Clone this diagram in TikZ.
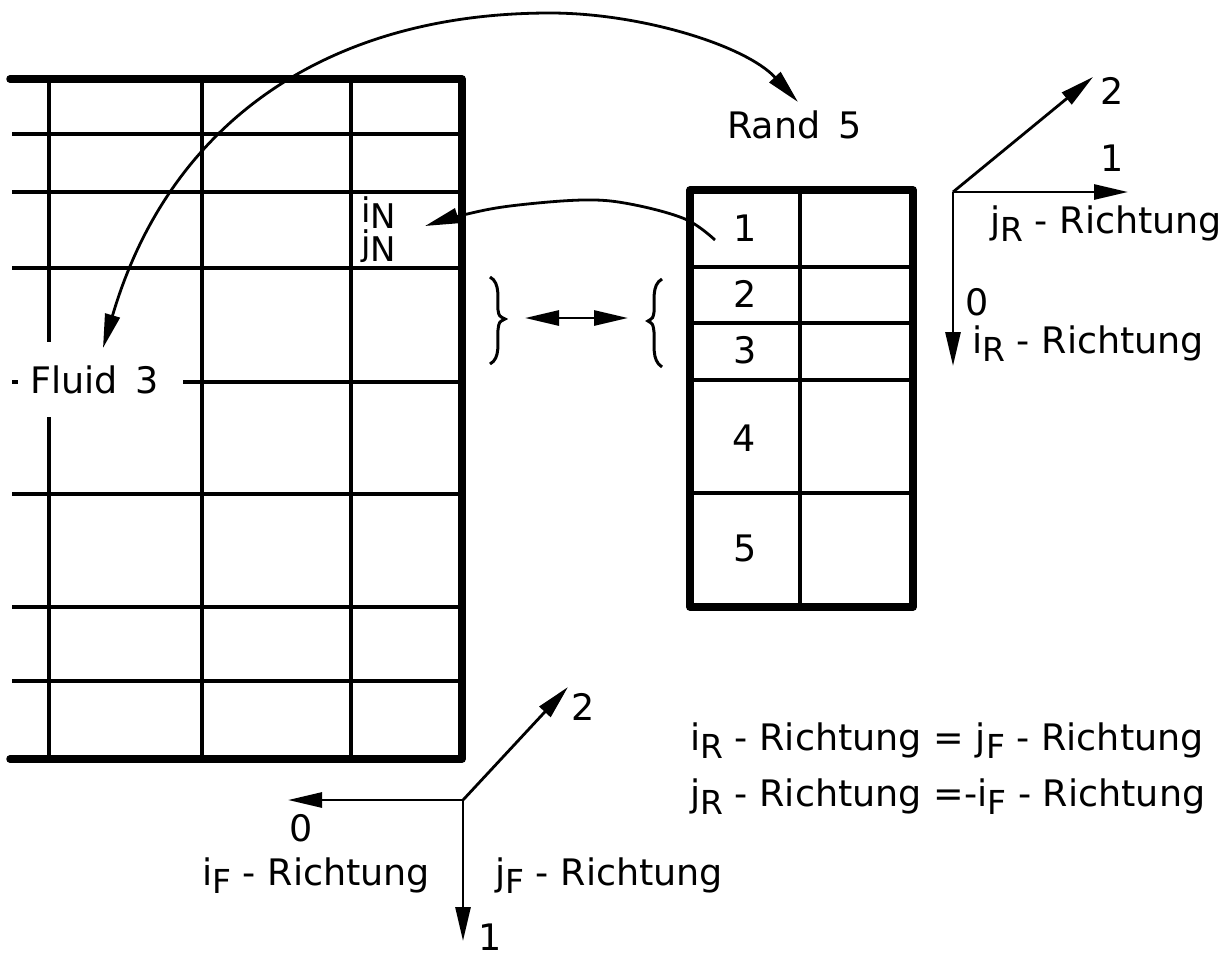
\documentclass[tikz,border=0pt]{standalone}
\usepackage{fontspec}
\setmainfont{DejaVu Sans}
\usetikzlibrary{arrows.meta}
\newcommand{\lowidx}[1]{\raisebox{-0.24em}{\fontsize{33}{33}\selectfont #1}}
\newcommand{\lowN}[1]{\raisebox{-0.2em}{#1}}
\begin{document}
\begin{tikzpicture}[x=1pt,y=-1pt,
  gridline/.style={line width=3.6pt},
  border/.style={line width=7.5pt,line join=round,line cap=round},
  conn/.style={line width=2.8pt},
  hd/.tip={Triangle[length=34pt,width=15pt]},
  tipA/.style={-hd},
  lbl/.style={inner sep=0pt,font=\fontsize{36.5}{40}\selectfont}]
\useasboundingbox (0,0) rectangle (1228,959);
% ---------- left grid (Fluid 3)
\foreach \yy in {134,192,268,494,607,681}
  \draw[gridline] (12,\yy) -- (462,\yy);
\draw[gridline] (183,382) -- (462,382);
\draw[gridline] (12,382) -- (18,382);
\draw[gridline] (49,79) -- (49,342);
\draw[gridline] (49,417) -- (49,759);
\draw[gridline] (202,79) -- (202,759);
\draw[gridline] (351,79) -- (351,759);
\draw[border] (10,79) -- (462,79) -- (462,759) -- (10,759);
\node[lbl,anchor=base west] (fluid) at (30,393) {Fluid\, 3};
\node[lbl,anchor=base west,font=\fontsize{34}{34}\selectfont] (iN) at (361,222) {i\lowN{N}};
\node[lbl,anchor=base west,font=\fontsize{34}{34}\selectfont] (jN) at (361,255) {j\lowN{N}};
% ---------- right box (Rand 5)
\foreach \yy in {267,323,380,493}
  \draw[gridline] (690,\yy) -- (913,\yy);
\draw[gridline] (800,190) -- (800,607);
\draw[border] (690,190) rectangle (913,607);
\node[lbl] (r1) at (745,228) {1};
\node[lbl] (r2) at (745,294) {2};
\node[lbl] (r3) at (745,350) {3};
\node[lbl] (r4) at (744,438) {4};
\node[lbl] (r5) at (745,548) {5};
\node[lbl,anchor=base west] (rand) at (727,138) {Rand\, 5};
% ---------- connectors
\coordinate (fluidtip) at (103,348);
\coordinate (curvetop) at (550,13);
\coordinate (randtip) at (798,102);
\draw[conn,hd-hd] (fluidtip) .. controls (170,120) and (330,13) .. (curvetop)
  .. controls (640,13) and (745,45) .. (randtip);
\coordinate (cellstart) at (715,240);
\coordinate (iNtip) at (425,226);
\draw[conn,tipA] plot[smooth,tension=0.6] coordinates {(cellstart) (685,219) (630,204) (583,200) (510,206) (463,215) (iNtip)};
% braces and double arrow
\draw[line width=3pt] (490,277) .. controls (501,283) and (497,300) .. (498,310)
  .. controls (499,316) .. (505,319) .. controls (499,322) .. (498,330)
  .. controls (497,342) and (501,358) .. (490,364);
\draw[line width=3pt] (662,279) .. controls (651,285) and (655,302) .. (654,312)
  .. controls (653,318) .. (648,321) .. controls (653,324) .. (654,332)
  .. controls (655,344) and (651,360) .. (662,367);
\coordinate (dl) at (525,318);
\coordinate (dr) at (628,318);
\draw[conn,hd-hd] (dl) -- (dr);
% ---------- R axes (top right)
\coordinate (ro) at (953,192);
\coordinate (r0) at (953,366);
\coordinate (rone) at (1128,192);
\coordinate (rtwo) at (1093,77);
\draw[conn,tipA] (ro) -- (r0);
\draw[conn,tipA] (ro) -- (rone);
\draw[conn,tipA] (ro) -- (rtwo);
\node[lbl] (lr2) at (1112,91) {2};
\node[lbl] (lr1) at (1112,158) {1};
\node[lbl] (lr0) at (977,302) {0};
\node[lbl,anchor=base west] (jrr) at (990,233) {j\lowidx{R} - Richtung};
\node[lbl,anchor=base west] (irr) at (972,353) {i\lowidx{R} - Richtung};
% ---------- F axes (bottom)
\coordinate (fo) at (463,800);
\coordinate (f0) at (288,800);
\coordinate (fone) at (463,941);
\coordinate (ftwo) at (568,687);
\draw[conn,tipA] (fo) -- (f0);
\draw[conn,tipA] (fo) -- (fone);
\draw[conn,tipA] (fo) -- (ftwo);
\node[lbl] (lf0) at (301,828) {0};
\node[lbl] (lf2) at (583,707) {2};
\node[lbl] (lf1) at (490,937) {1};
\node[lbl,anchor=base west] (ifr) at (202,885) {i\lowidx{F} - Richtung};
\node[lbl,anchor=base west] (jfr) at (495,885) {j\lowidx{F} - Richtung};
% ---------- equations
\node[lbl,anchor=base west] (eq1) at (690,750) {i\lowidx{R} - Richtung = j\lowidx{F} - Richtung};
\node[lbl,anchor=base west] (eq2) at (690,806) {j\lowidx{R} - Richtung =-i\lowidx{F} - Richtung};
\end{tikzpicture}
\end{document}
